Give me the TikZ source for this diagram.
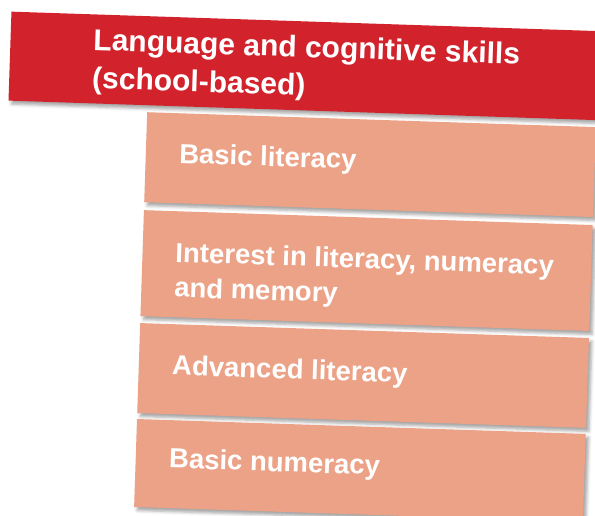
\documentclass[tikz,border=0pt]{standalone}
\usepackage{fontspec}
\setmainfont{Liberation Sans}
\usetikzlibrary{shadows.blur}
\definecolor{bannerred}{RGB}{210,35,44}
\definecolor{salmon}{RGB}{235,162,134}
\begin{document}
\begin{tikzpicture}[x=1pt,y=1pt,
  softshadow/.style={blur shadow={shadow xshift=3pt, shadow yshift=-3.5pt, shadow blur radius=3pt, shadow opacity=35}},
  banner/.style={rectangle, fill=bannerred, draw=none, inner sep=0pt, anchor=north west, softshadow},
  boxstyle/.style={rectangle, fill=salmon, draw=none, inner sep=0pt, anchor=north west, minimum width=449pt, softshadow},
  bannertext/.style={text=white, inner sep=0pt, anchor=base west, align=left, font=\bfseries\fontsize{30}{38}\selectfont},
  boxtext/.style={text=white, inner sep=0pt, anchor=base west, align=left, font=\bfseries\fontsize{27.5}{35}\selectfont}
]
\useasboundingbox (0,0) rectangle (595,515);
\clip (0,0) rectangle (595,515);
\begin{scope}[shift={(147,403)}, rotate=-1.9, transform shape]
  \node[banner, minimum width=640pt, minimum height=89pt] (banner) at (-139,96) {};
  \node[bannertext] (bt) at (-56,22) {Language and cognitive skills\\(school-based)};

  \node[boxstyle, minimum height=90pt] (b1) at (0,0) {};
  \node[boxtext] (t1) at (33.5,-50) {Basic literacy};

  \node[boxstyle, minimum height=106pt] (b2) at (0,-98) {};
  \node[boxtext] (t2) at (33,-184) {Interest in literacy, numeracy\\and memory};

  \node[boxstyle, minimum height=90pt] (b3) at (0,-211) {};
  \node[boxtext] (t3) at (33.5,-262) {Advanced literacy};

  \node[boxstyle, minimum height=88pt] (b4) at (0,-307) {};
  \node[boxtext] (t4) at (33.5,-355) {Basic numeracy};
\end{scope}
\end{tikzpicture}
\end{document}
